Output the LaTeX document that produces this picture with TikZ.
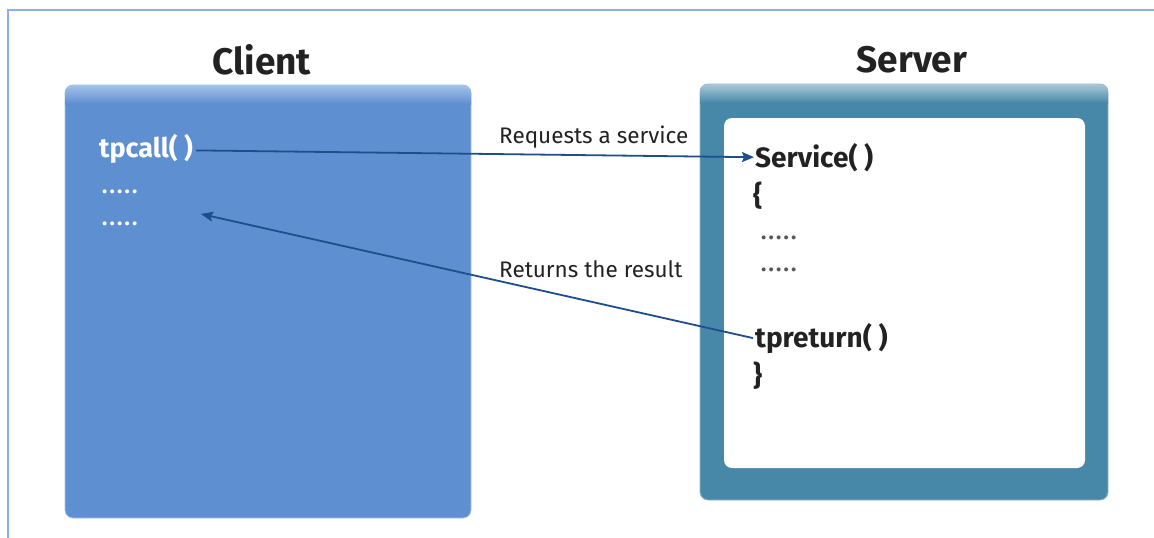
\documentclass[tikz,border=0pt]{standalone}
\usepackage{fontspec}
\setmainfont{Fira Sans}
\usetikzlibrary{arrows.meta}
\definecolor{framecol}{HTML}{8DB0E6}
\definecolor{clientfill}{HTML}{5E8FD1}
\definecolor{clientedge}{HTML}{A9C4EA}
\definecolor{clienttop}{HTML}{A8C4EA}
\definecolor{serverfill}{HTML}{4788A8}
\definecolor{servertop}{HTML}{AFCCDB}
\definecolor{arrowcol}{HTML}{1E4F8A}
\definecolor{textdark}{HTML}{222222}
\newcommand\fivedots{.\hskip2.2pt.\hskip2.2pt.\hskip2.2pt.\hskip2.2pt.}
\tikzset{
  title/.style={font=\fontsize{37}{42}\selectfont\bfseries, text=textdark, inner sep=0pt},
  clienttext/.style={font=\fontsize{27}{32}\selectfont\bfseries, text=white, inner sep=0pt, anchor=base west},
  servertext/.style={font=\fontsize{28}{32}\selectfont\bfseries, text=textdark, inner sep=0pt, anchor=base west},
  dots/.style={font=\fontsize{22}{26}\selectfont\bfseries, inner sep=0pt, anchor=base west},
  label/.style={font=\fontsize{22.5}{26}\selectfont, text=textdark, inner sep=0pt, anchor=base west},
  link/.style={draw=arrowcol, line width=1.8pt, -{Stealth[length=12pt,width=10pt,inset=2pt]}}
}
\begin{document}
\begin{tikzpicture}[x=1pt,y=-1pt]
\useasboundingbox (0,0) rectangle (1154,538);
\fill[white] (0,0) rectangle (1154,538);
% frame
\draw[framecol, line width=1.5pt] (8,538) -- (8,10) -- (1154,10);
% client box
\path[fill=clientfill, draw=clientedge, line width=0.8pt, rounded corners=8pt] (65,85) rectangle (471,518);
\begin{scope}
  \clip[rounded corners=8pt] (65,85) rectangle (471,518);
  \shade[top color=clienttop, bottom color=clientfill] (65,84) rectangle (471,104);
\end{scope}
% server box
\path[fill=serverfill, draw=servertop!70!serverfill, line width=0.8pt, rounded corners=8pt] (700,84) rectangle (1108,500);
\begin{scope}
  \clip[rounded corners=8pt] (700,84) rectangle (1108,500);
  \shade[top color=servertop, bottom color=serverfill] (700,83) rectangle (1108,103);
\end{scope}
\fill[white, rounded corners=8pt] (724,118) rectangle (1085,468);
% titles
\node[title] (clienttitle) at (262,60) {Client};
\node[title] (servertitle) at (912,60) {Server};
% client text
\node[clienttext] (tpcall) at (99,157) {tpcall( )};
\node[dots, text=white] (cdots1) at (102,193) {\fivedots};
\node[dots, text=white] (cdots2) at (102,225) {\fivedots};
\coordinate (retend) at (201,214);
% server text
\node[servertext] (service) at (755,167) {Service( )};
\node[servertext] (lbrace) at (753,205) {\{};
\node[dots, text=textdark!75] (sdots1) at (761,239) {\fivedots};
\node[dots, text=textdark!75] (sdots2) at (761,271) {\fivedots};
\node[servertext] (tpreturn) at (755,347) {tpreturn( )};
\node[servertext] (rbrace) at (753,385) {\}};
% labels
\node[label] (reqlabel) at (499,143) {Requests a service};
\node[label] (retlabel) at (499,277) {Returns the result};
% connectors
\draw[link] ([xshift=3pt,yshift=-2pt]tpcall.east) -- ([xshift=-1pt]service.west);
\draw[link] ([xshift=-2pt]tpreturn.west) -- (retend);
\end{tikzpicture}
\end{document}
